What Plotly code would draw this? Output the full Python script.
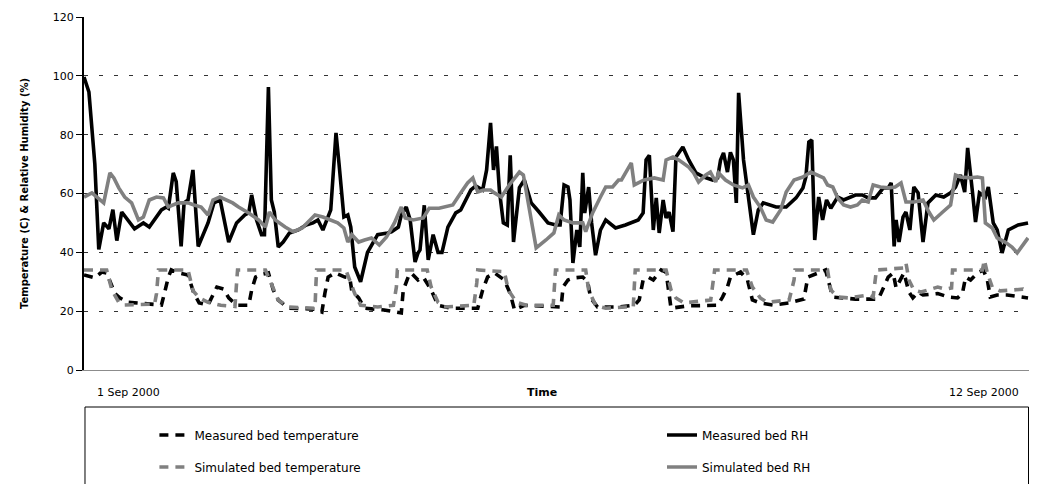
import plotly.graph_objects as go

# time axis in hours since 1 Sep 2000 00:00
x_labels = ["1 Sep 2000", "12 Sep 2000"]
y_ticks = [0, 20, 40, 60, 80, 100, 120]

mrh_t = [0, 1.5, 3.3, 4.5, 6, 7.6, 8.8, 10, 11.5, 15.4, 18.1, 19.9, 23.6, 25.1, 25.7, 27.2, 28.1, 29.6, 30.5,
         31.7, 33.2, 34.8, 37.8, 39.6, 41.5, 44.1, 46.5, 49.0, 50.2, 51.1, 52.6, 54.1, 55.0, 56.2, 57.1, 58.0,
         59.2, 60.7, 62.6, 65.3, 67.7, 69.8, 71.3, 72.8, 75.2, 76.8, 77.7, 79.2, 80.4, 81.3, 82.5, 84.3, 86.4,
         89.5, 92.5, 93.7, 95.8, 96.7, 98.2, 99.4, 100.9, 101.8, 102.4, 103.7, 104.9, 106.4, 107.9, 109.1,
         110.9, 113.3, 114.8, 116.3, 117.9, 119.4, 120.3, 121.5, 122.7, 123.9, 124.8, 125.7, 126.6, 127.8,
         129.0, 129.9, 130.9, 132.7, 134.2, 136.3, 138.7, 141.4, 143.8, 145.1, 146.3, 147.5, 148.1, 149.0,
         150.2, 151.1, 152.0, 152.6, 153.8, 154.7, 155.9, 157.4, 159.0, 162.0, 165.0, 168.9, 170.4, 171.3,
         172.3, 173.5, 174.4, 175.3, 176.5, 177.4, 178.3, 179.5, 180.4, 182.5, 184.3, 186.5, 188.9, 191.6,
         193.1, 194.0, 194.9, 196.1, 197.0, 197.9, 198.8, 199.5, 201.0, 202.5, 204.0, 205.5, 207.0, 210.9,
         214.0, 217.0, 219.1, 220.0, 220.9, 221.8, 222.7, 223.9, 225.1, 226.3, 227.6, 229.7, 231.5, 235.1,
         237.2, 239.0, 241.2, 243.6, 245.1, 246.0, 246.9, 247.5, 248.4, 249.6, 250.5, 251.7, 252.9, 254.2,
         255.7, 257.2, 259.6, 262.0, 264.1, 265.6, 267.1, 268.4, 269.3, 270.8, 271.7, 272.9, 274.7, 275.6,
         277.1, 278.3, 279.8, 281.7, 284.7, 287.7]
mrh_v = [99.6, 94.5, 70, 41, 50, 48, 54.5, 44, 53.7, 48, 50, 48.6, 54.4, 55.4, 55, 67, 64, 42, 56.8,
         57.8, 68, 42, 50, 56.8, 57.8, 43.5, 50, 52.7, 53.4, 59.5, 51, 46, 46, 96.2, 57.8, 53.7, 41.8,
         43.5, 46.6, 47.6, 49.3, 50, 51, 47.6, 54.4, 80.6, 70.4, 52, 52.7, 48.6, 35, 30, 40, 46,
         46.6, 47, 48.6, 52.7, 55.4, 51, 36.7, 39.8, 40.8, 56, 37.4, 46, 40, 40, 48.6,
         53.4, 54.4, 57.8, 61.2, 62.6, 61.9, 61.2, 68, 84, 68, 76, 61, 50, 49.3,
         73, 43.5, 62, 64.6, 56.8, 53.7, 50, 49.3, 49.3, 62.9, 62.2, 57.8, 36.4, 47.6,
         41.8, 67, 53.4, 62.2, 50, 39, 47.6, 51, 48.3, 49.3, 51, 53.4, 71.4, 73,
         47.6, 58.5, 46.6, 57.8, 51.7, 53.7, 47, 72.4, 75.8, 71.4, 67, 65.6, 64.6, 65.3,
         71.4, 73.8, 67.3, 74, 71.4, 56.8, 94.2, 71.4, 57.8, 46, 54.4, 56.8, 55.4, 55.4,
         58.5, 61.9, 65.6, 77.5, 78.2, 44.2, 58.8, 51, 57.8, 55, 58.8, 57.8, 59.5, 59.5,
         58.5, 58.5, 61.9, 61.9, 63.6, 42, 51, 43.5, 52, 53.7, 47.6, 62.2, 60.2, 43.5,
         56.8, 59.5, 58.8, 60.2, 62.2, 66.3, 60.5, 75.5, 60.2, 50.3, 60.2, 58.8, 62.2, 50,
         47.6, 39.8, 47.6, 49.3, 50, 51]

srh_t = [0, 2.4, 6.0, 7.9, 9.1, 10.6, 12.4, 14.5, 16.6, 18.1, 19.9, 22.1, 24.2, 25.7, 28.7, 31.7, 33.5,
         35.7, 37.8, 39.3, 41.4, 43.2, 45.3, 47.1, 50.2, 53.2, 55.3, 56.5, 58.3, 61.3, 63.8, 66.5, 68.3,
         70.4, 72.8, 75.2, 77.3, 79.2, 80.4, 81.6, 83.7, 85.5, 87.6, 90.0, 92.2, 94.6, 96.7, 97.9, 100.3,
         103.4, 105.2, 108.2, 110.3, 112.4, 114.8, 116.9, 118.5, 120.0, 121.8, 123.9, 125.1, 127.2, 129.6,
         132.7, 133.9, 135.7, 137.8, 140.8, 143.2, 144.7, 146.3, 149.0, 152.0, 152.9, 155.0, 157.4, 159.0,
         161.1, 162.9, 163.8, 165.0, 166.8, 167.7, 170.7, 173.8, 176.5, 177.4, 179.5, 181.3, 184.3, 185.8,
         187.3, 189.5, 190.9, 192.5, 193.4, 195.5, 197.9, 200.7, 202.5, 204.0, 206.1, 207.9, 209.9, 212.3,
         214.0, 216.4, 219.1, 221.5, 223.6, 225.4, 226.6, 228.2, 229.7, 231.5, 233.6, 235.7, 237.2, 239.0,
         240.5, 242.7, 245.1, 247.2, 249.0, 250.5, 252.9, 255.7, 257.5, 259.0, 261.7, 264.1, 265.6, 267.1,
         270.2, 272.3, 273.8, 274.7, 276.8, 278.3, 280.7, 282.8, 284.4, 286.2, 287.7]
srh_v = [58.8, 60.2, 56.8, 67, 65.3, 61.9, 58.8, 56.8, 51, 52, 57.8, 58.8, 58.5, 55.4, 56.8, 56.8, 56.1,
         55.4, 52.7, 57.8, 58.8, 57.8, 56.8, 55.4, 53.4, 51, 48.6, 53.7, 51, 48.6, 47, 48.3, 50.3,
         52.7, 52, 51, 50, 48.3, 43.5, 46, 43.5, 44.2, 44.9, 42.5, 45.2, 50, 55.4, 51.7, 51,
         51.7, 55, 55, 55.4, 56.1, 60.2, 63.6, 65.3, 60.5, 61.2, 61.2, 60.2, 58.8, 62.9,
         67.3, 66.3, 54.4, 41.5, 44.2, 46.6, 52.7, 51, 50, 50, 47, 53.4, 58.8, 62.2,
         62.2, 64.6, 64.6, 67, 70.4, 62.9, 64.6, 65.3, 64.6, 71.4, 72.4, 71.4, 69, 67,
         63.9, 66.3, 67.3, 63.9, 67, 64.6, 62.9, 61.9, 62.9, 58.8, 55.4, 51, 50.3, 54.4,
         60.5, 64.6, 65.6, 67.3, 66.3, 65.3, 62.9, 62.2, 58.5, 56.1, 55.4, 56.1, 57.8, 57.1,
         62.9, 62.2, 61.9, 62.2, 63.6, 57.1, 57.1, 57.8, 53.7, 51, 53.7, 56.1, 66.3, 65.6,
         65.3, 65.6, 65.3, 50, 48.3, 44.9, 43.5, 41.8, 39.8, 42.5, 44.9]

mt_t = [0, 3.3, 5.4, 6.9, 9.4, 10.9, 13.6, 23.6, 24.5, 25.7, 26.6, 28.7, 31.7, 33.5, 35.1, 37.8, 40.5,
        42.6, 44.1, 46.5, 50.2, 51.1, 52.3, 54.1, 56.2, 57.7, 59.2, 62.3, 70.4, 72.5, 73.4, 74.4, 76.5,
        79.5, 81.0, 81.6, 83.7, 85.5, 91.5, 96.7, 97.3, 98.8, 99.7, 101.8, 103.4, 105.8, 107.9, 111.8,
        120.0, 121.5, 123.0, 125.1, 128.1, 129.9, 131.2, 132.1, 134.2, 142.9, 145.4, 146.0, 147.5, 149.3,
        152.0, 153.5, 154.4, 156.5, 162.9, 167.7, 169.2, 170.4, 171.9, 173.5, 175.9, 177.4, 178.3, 178.9,
        184.0, 193.1, 194.6, 196.1, 197.0, 198.5, 200.1, 202.2, 203.7, 206.1, 210.0, 214.9, 219.4, 220.6,
        222.1, 226.0, 227.6, 228.2, 231.2, 235.1, 242.1, 243.6, 245.1, 246.6, 246.9, 247.5, 249.9, 251.4,
        252.6, 254.2, 255.7, 260.2, 263.5, 266.2, 267.7, 268.7, 270.2, 272.3, 274.1, 275.3, 276.2, 278.3,
        281.3, 285.3, 287.7]
mt_v = [32.3, 31.3, 33.3, 33, 26, 24.5, 23, 22.1, 26, 31.6, 34, 33, 32.3, 26, 22.8, 22.1, 28.2,
        27.5, 24.5, 22, 22, 27.2, 31.6, 32.5, 33, 27.2, 23.8, 21, 20.7, 19.7, 26, 31.6, 33,
        31.6, 31.3, 27, 24.5, 21, 20.4, 19.4, 27.2, 31.6, 33, 30.6, 31.6, 27.2, 22, 21,
        21, 27.2, 31.6, 33, 30.6, 26, 20.4, 21, 22, 21.4, 21.4, 28.2, 30.6, 31.3,
        31.6, 30, 24.5, 21.4, 21.4, 22, 23.8, 30.6, 31.6, 30.6, 34, 33.3, 26, 21,
        21.8, 22, 24.8, 28.2, 31.6, 32.3, 33.3, 30.6, 23.8, 22.8, 22.1, 22.8, 24.1, 31.6,
        32.3, 34, 27.2, 24.8, 24.5, 24.1, 24.1, 28.2, 31.6, 33, 30.6, 27.9, 33, 26.5,
        24.5, 26.5, 25.5, 26, 24.8, 24.5, 26, 31.6, 30.6, 33, 34, 30.6, 24.8, 25.5,
        25.5, 24.8, 24.5]

st_t = [0, 6.9, 8.5, 10.6, 12.4, 21.5, 22.1, 22.7, 31.7, 33.2, 35.1, 37.8, 41.7, 46.0, 46.5, 46.8,
        55.3, 57.4, 59.2, 62.3, 70.4, 70.7, 70.9, 79.8, 81.3, 82.5, 84.3, 89.5, 94.3, 95.2, 95.5, 104.6,
        105.8, 107.9, 109.7, 118.8, 119.7, 120.0, 128.1, 129.3, 131.8, 134.8, 143.0, 143.4, 143.7, 152.9,
        153.8, 155.9, 159.0, 165.0, 167.4, 167.7, 168.0, 177.4, 178.9, 180.4, 182.8, 191.0, 191.9, 192.2,
        201.9, 203.7, 206.1, 208.2, 214.9, 216.4, 216.7, 226.6, 227.6, 229.7, 233.0, 239.0, 240.5, 241.2,
        241.5, 249.9, 250.5, 251.4, 252.9, 255.1, 257.5, 260.2, 262.6, 264.4, 264.7, 273.8, 274.4, 275.3,
        276.8, 279.2, 283.1, 286.2, 287.7]
st_v = [34, 34, 27.2, 23, 22.1, 22.4, 26, 34, 34, 27, 24.5, 23, 22, 21.6, 29.6, 34,
        34, 28.2, 23.8, 21.4, 21, 29.6, 34, 34, 29.6, 26, 22, 21.4, 22, 28.2, 34, 34,
        28.2, 23, 21.4, 22, 29.6, 34, 33.4, 27.2, 23, 22, 22, 29.6, 34, 34,
        27.2, 22, 21, 21.4, 21.4, 28.2, 34, 34, 27.2, 24.5, 22.8, 23.8, 30.6, 34,
        34, 28.2, 24.5, 23, 23.8, 30.6, 34, 34, 27.2, 24.8, 24.5, 25.5, 24.8, 33,
        34, 34.7, 36.4, 30.6, 27.2, 26.5, 27.2, 28.2, 27.5, 27.9, 34, 34, 37.4, 33,
        28.2, 26.9, 27.2, 27.5, 26.5]

BLACK = "#000000"
GRAY = "#808080"
FONT = "DejaVu Sans, Liberation Sans, sans-serif"

W, H = 1037, 484
L, R, T, B = 84, 0, 17, 114
PH = H - T - B
PW = W - L - R


def py(px):
    return (H - B - px) / PH


def pxx(px):
    return (px - L) / PW


series = [
    ("Measured bed temperature", mt_t, mt_v, BLACK, "9px,7px", "legend", 155, 435),
    ("Simulated bed temperature", st_t, st_v, GRAY, "9px,7px", "legend2", 155, 467),
    ("Measured bed RH", mrh_t, mrh_v, BLACK, "solid", "legend3", 667, 435),
    ("Simulated bed RH", srh_t, srh_v, GRAY, "solid", "legend4", 667, 467),
]

fig = go.Figure()
legends = {}
for name, t, v, col, dash, leg, lx, ly in series:
    fig.add_trace(go.Scatter(x=t, y=v, mode="lines", name=name,
                             line=dict(color=col, width=3.6, dash=dash), legend=leg))
    legends[leg] = dict(x=pxx(lx), y=py(ly), xanchor="left", yanchor="middle", orientation="h",
                        entrywidth=330, font=dict(family=FONT, size=12, color="#000"),
                        bgcolor="rgba(0,0,0,0)", borderwidth=0)

fig.update_layout(
    width=W, height=H,
    margin=dict(l=L, r=R, t=T, b=B),
    paper_bgcolor="white", plot_bgcolor="white",
    font=dict(family=FONT, size=10, color="#000"),
    xaxis=dict(range=[0, 288], showticklabels=False, ticks="", showgrid=False, zeroline=False,
               showline=True, linecolor="#8c8c8c", linewidth=1, automargin=False),
    yaxis=dict(range=[0, 120], tickvals=y_ticks, ticks="outside", ticklen=6, tickcolor="#000",
               showline=True, linecolor="#000", linewidth=2, zeroline=False, automargin=False,
               showgrid=True, gridcolor="#333333", gridwidth=1, griddash="4px,11px",
               tickfont=dict(family=FONT, size=11, color="#000"),
               title=dict(text="Temperature (C) & Relative Humidity (%)",
                          font=dict(family=FONT, size=10, color="#000", weight="bold"), standoff=22)),
    showlegend=True,
    **legends,
)

# x-axis end labels and title
fig.add_annotation(x=pxx(129), y=py(392), xref="paper", yref="paper", text=x_labels[0], showarrow=False,
                   xanchor="center", yanchor="middle", font=dict(family=FONT, size=11, color="#000"))
fig.add_annotation(x=pxx(992), y=py(392), xref="paper", yref="paper", text=x_labels[1], showarrow=False,
                   xanchor="center", yanchor="middle", font=dict(family=FONT, size=11, color="#000"))
fig.add_annotation(x=pxx(546), y=py(392), xref="paper", yref="paper", text="Time", showarrow=False,
                   xanchor="center", yanchor="middle",
                   font=dict(family=FONT, size=11, color="#000", weight="bold"))

# legend frame
fig.add_shape(type="rect", xref="paper", yref="paper", x0=pxx(85), x1=pxx(1036.5), y0=py(407), y1=py(490),
              line=dict(color="#000", width=1), fillcolor="rgba(0,0,0,0)", layer="below")

post = """
document.body.style.margin='0';
document.body.style.overflow='hidden';
"""

fig.write_html("out.html", post_script=post, config={"displayModeBar": False})
